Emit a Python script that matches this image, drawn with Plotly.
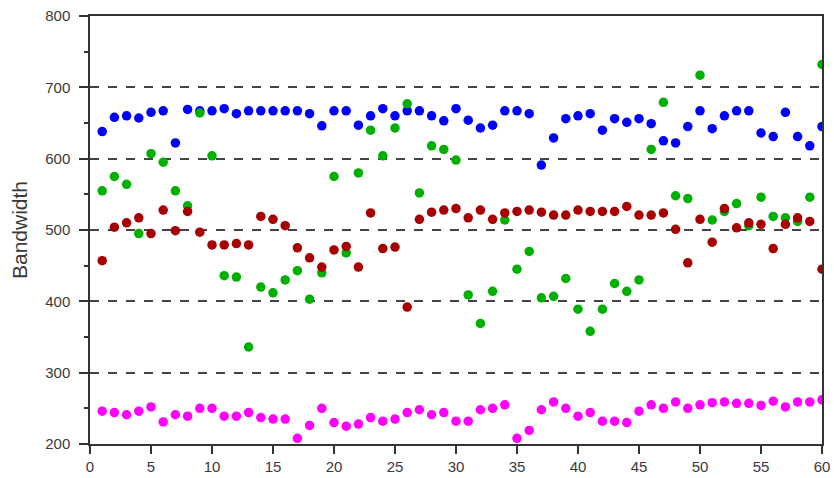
import plotly.graph_objects as go

x_vals = list(range(1, 61))

blue = [638, 658, 660, 657, 665, 667, 622, 669, 667, 667,
        670, 663, 667, 667, 667, 667, 667, 663, 646, 667,
        667, 647, 660, 670, 660, 667, 667, 660, 653, 670,
        654, 643, 647, 667, 667, 663, 591, 629, 656, 660,
        663, 640, 656, 651, 656, 649, 625, 622, 645, 667,
        642, 660, 667, 667, 636, 631, 665, 631, 618, 645]

green = [555, 575, 564, 495, 607, 595, 555, 534, 664, 604,
         436, 434, 336, 420, 412, 430, 443, 403, 440, 575,
         468, 580, 640, 604, 643, 677, 552, 618, 613, 598,
         409, 369, 414, 514, 445, 470, 405, 407, 432, 389,
         358, 389, 425, 414, 430, 613, 679, 548, 544, 717,
         514, 526, 537, 506, 546, 519, 517, 512, 546, 732]

red = [457, 504, 510, 517, 495, 528, 499, 526, 497, 479,
       479, 481, 479, 519, 515, 506, 475, 461, 448, 472,
       477, 448, 524, 474, 476, 392, 515, 525, 528, 530,
       517, 528, 515, 524, 526, 528, 525, 521, 521, 528,
       526, 526, 526, 533, 521, 521, 524, 501, 454, 515,
       483, 530, 503, 510, 508, 474, 508, 517, 512, 445]

magenta = [246, 244, 241, 246, 252, 231, 241, 239, 250, 250,
           239, 239, 244, 237, 235, 235, 208, 226, 250, 230,
           225, 228, 237, 232, 235, 244, 248, 241, 244, 232,
           232, 248, 250, 255, 208, 219, 248, 259, 250, 239,
           244, 232, 232, 230, 246, 255, 250, 259, 250, 255,
           258, 259, 257, 257, 254, 260, 252, 259, 259, 262]

series = [
    ("blue", blue, "#0000ff"),
    ("green", green, "#00b000"),
    ("red", red, "#a80000"),
    ("magenta", magenta, "#ff00ff"),
]

fig = go.Figure()
for name, vals, color in series:
    fig.add_trace(go.Scatter(
        x=x_vals, y=vals, mode="markers", name=name,
        marker=dict(size=9.5, color=color, line=dict(width=0)),
        cliponaxis=True,
    ))

axis_font = dict(family="Liberation Sans, Arial, sans-serif", size=15, color="#3a3a3a")

fig.update_layout(
    width=834, height=478,
    margin=dict(l=90, r=12, t=16, b=34, autoexpand=False),
    paper_bgcolor="white", plot_bgcolor="white",
    showlegend=False,
    font=axis_font,
)
fig.update_xaxes(
    range=[0, 60], tickmode="linear", tick0=0, dtick=5,
    automargin=False,
    showgrid=False, zeroline=False,
    showline=True, linecolor="#333333", linewidth=1.5, mirror=True,
    ticks="outside", ticklen=8, tickwidth=1.5, tickcolor="#333333",
    tickfont=axis_font,
)
fig.update_yaxes(
    range=[200, 800], tickmode="linear", tick0=200, dtick=100,
    automargin=False,
    showgrid=True, gridcolor="#444444", griddash="dash", gridwidth=1.5,
    zeroline=False,
    showline=True, linecolor="#333333", linewidth=1.5, mirror=True,
    ticks="outside", ticklen=9, tickwidth=1.5, tickcolor="#333333",
    ticklabelstandoff=6,
    minor=dict(dtick=50, ticks="outside", ticklen=4, tickwidth=1.5,
               tickcolor="#333333", showgrid=False),
    tickfont=axis_font,
    title=dict(text="Bandwidth", font=dict(family="Liberation Sans, Arial, sans-serif",
                                           size=21, color="#3a3a3a"), standoff=12),
)

fig.write_html("out.html")
